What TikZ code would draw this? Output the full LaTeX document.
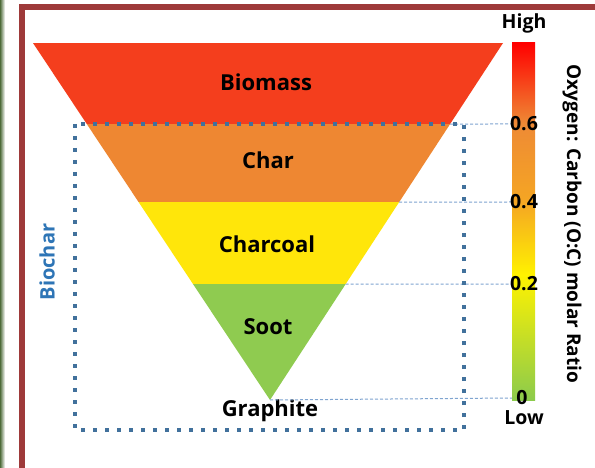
\documentclass[tikz,border=0pt]{standalone}
\usepackage{fontspec}
\setmainfont{Open Sans}
\usetikzlibrary{calc}
\definecolor{frameC}{HTML}{9E3A3A}
\definecolor{leafC}{HTML}{4E6B3A}
\definecolor{biomassC}{HTML}{F43E1D}
\definecolor{charC}{HTML}{EE8732}
\definecolor{charcoalC}{HTML}{FFE60A}
\definecolor{sootC}{HTML}{8FCB50}
\definecolor{boxC}{HTML}{41719C}
\definecolor{guideC}{HTML}{7FA4D0}
\definecolor{biocharC}{HTML}{2E75B6}
\definecolor{barRed}{HTML}{FF0000}
\definecolor{barOrange}{HTML}{EE8A35}
\definecolor{barAmber}{HTML}{F5A623}
\definecolor{barYellow}{HTML}{FFF200}
\definecolor{barGreen}{HTML}{8CCB4C}
\pgfdeclareverticalshading{ratiobar}{100bp}{color(0bp)=(barGreen); color(25bp)=(barGreen);
  color(42.5bp)=(barYellow); color(52.7bp)=(barAmber); color(63.7bp)=(barOrange);
  color(75bp)=(barRed); color(100bp)=(barRed)}

\begin{document}
\begin{tikzpicture}[
  x=1pt, y=-1pt,
  every node/.style={font=\bfseries, inner sep=0pt},
  bandlbl/.style={font=\fontsize{22}{26}\selectfont\bfseries, text=black},
  ticklbl/.style={font=\fontsize{19.5}{23}\selectfont\bfseries, text=black},
  guide/.style={guideC, line width=1pt, dash pattern=on 3pt off 2pt},
]
\clip (0,0) rectangle (595,468);
\fill[white] (0,0) rectangle (595,468);

% ── Frame ──
\shade[left color=leafC, right color=white] (0,0) rectangle (5,468);
\draw[frameC, line width=6pt] (22,475) -- (22,7) -- (600,7);

% ── Triangle corners and band edges ──
\coordinate (tl) at (33,43);
\coordinate (tr) at (503,43);
\coordinate (apex) at (270,400);
\coordinate (e6) at ($(tr)!0.2269!(apex)$);
\coordinate (e4) at ($(tr)!0.4454!(apex)$);
\coordinate (e2) at ($(tr)!0.6751!(apex)$);

% ── Bands ──
\begin{scope}
  \clip (tl) -- (tr) -- (apex) -- cycle;
  \fill[biomassC] (0,43) rectangle (595,124);
  \fill[charC] (0,124) rectangle (595,202);
  \fill[charcoalC] (0,202) rectangle (595,284);
  \fill[sootC] (0,284) rectangle (595,401);
\end{scope}

\node[bandlbl] (biomass) at (266,82) {Biomass};
\node[bandlbl] (char) at (268,160) {Char};
\node[bandlbl] (charcoal) at (267,244) {Charcoal};
\node[bandlbl] (soot) at (268,327) {Soot};
\node[bandlbl] (graphite) at (270,411) {Graphite};

% ── Colour bar ──
\shade[shading=ratiobar] (512,43) rectangle (535,400);
\coordinate (t6) at (512,124);
\coordinate (t4) at (512,202);
\coordinate (t2) at (512,284);
\coordinate (t0) at (512,398);

% ── Guide lines ──
\draw[guide] (e6) -- (t6);
\draw[guide] (e4) -- (t4);
\draw[guide] (e2) -- (t2);
\draw[guide] (apex) -- (t0);

\node[ticklbl] (v6) at (524,124) {0.6};
\node[ticklbl] (v4) at (524,202) {0.4};
\node[ticklbl] (v2) at (524,284) {0.2};
\node[ticklbl] (v0) at (522,398) {0};
\node[ticklbl] (high) at (524,23) {High};
\node[ticklbl] (low) at (524,418) {Low};
\node[font=\fontsize{19}{23}\selectfont\bfseries, rotate=-90] (axis) at (572,224)
  {Oxygen: Carbon (O:C) molar Ratio};

% ── Biochar box ──
\draw[boxC, line width=4pt, dash pattern=on 4pt off 8pt] (75,124) rectangle (464,430);
\node[font=\fontsize{20}{24}\selectfont\bfseries, text=biocharC, rotate=90] (biochar) at (47,262) {Biochar};

\end{tikzpicture}
\end{document}
